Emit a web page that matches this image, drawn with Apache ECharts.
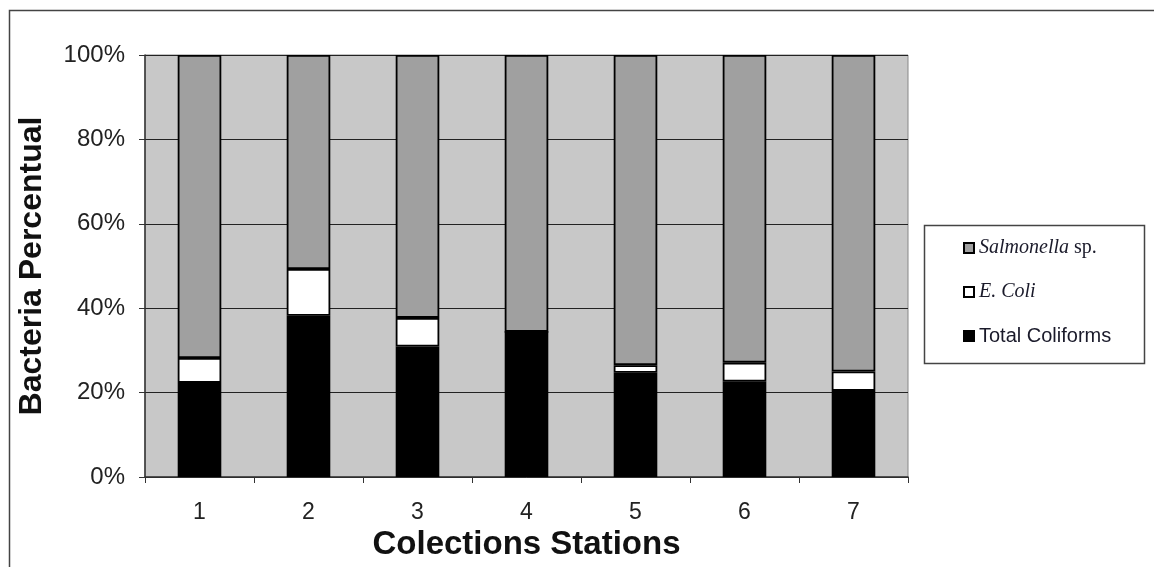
<!DOCTYPE html>
<html><head><meta charset="utf-8">
<script src="https://cdn.jsdelivr.net/npm/echarts@6/dist/echarts.min.js"></script>
<style>html,body{margin:0;padding:0;background:#fff}#c{width:1154px;height:567px}</style>
</head><body><div id="c"></div>
<script>
const categories = ['1','2','3','4','5','6','7'];
const totalColiforms = [22.3, 38.2, 30.9, 34.4, 24.7, 22.6, 20.4];
const eColi = [5.9, 11.1, 6.8, 0, 1.8, 4.5, 4.6];
const salmonella = [71.8, 50.7, 62.3, 65.6, 73.5, 72.9, 75.0];
const seriesNames = ['Total Coliforms', 'E. Coli', 'Salmonella sp.'];
const yTicks = [0, 20, 40, 60, 80, 100];

const chart = echarts.init(document.getElementById('c'), null, {renderer:'canvas'});
const barStyle = (color) => ({color: color, borderColor: '#000', borderWidth: 1.8});
chart.setOption({
  animation: false,
  backgroundColor: '#fff',
  graphic: [
    {type:'rect', shape:{x:9.5, y:10.5, width:1160, height:600}, style:{fill:null, stroke:'#444', lineWidth:1.5}, z:-10},
    {type:'rect', shape:{x:924.5, y:225.5, width:220, height:138}, style:{fill:'#fff', stroke:'#444', lineWidth:1.5}, z:0}
  ],
  grid: {left:145, right:246, top:55, bottom:90, show:true, backgroundColor:'#c8c8c8', borderColor:'#888', borderWidth:1},
  legend: {
    data: [seriesNames[2], seriesNames[1], seriesNames[0]],
    orient: 'vertical', left: 958, top: 233, itemGap: 24,
    itemWidth: 10, itemHeight: 10, icon: 'rect', z: 5,
    formatter: function(name){
      if (name === 'Salmonella sp.') return '{it|Salmonella}{n| sp.}';
      if (name === 'E. Coli') return '{it|E. Coli}';
      return '{a|Total Coliforms}';
    },
    textStyle: {
      rich: {
        it: {fontFamily:'Liberation Serif', fontStyle:'italic', fontSize:20, color:'#1a1a2a'},
        n: {fontFamily:'Liberation Serif', fontSize:20, color:'#1a1a2a'},
        a: {fontFamily:'Liberation Sans', fontSize:20, color:'#1a1a2a'}
      }
    }
  },
  xAxis: {
    type:'category', data: categories,
    name: 'Colections Stations', nameLocation:'middle', nameGap: 51,
    nameTextStyle: {fontFamily:'Liberation Sans', fontWeight:'bold', fontSize:33, color:'#111'},
    axisLine: {lineStyle:{color:'#333', width:1.5}},
    axisTick: {show:true, length:6, lineStyle:{color:'#333'}},
    axisLabel: {fontFamily:'Liberation Sans', fontSize:23, color:'#222', margin:24}
  },
  yAxis: {
    type:'value', min:0, max:100, interval:20,
    name: 'Bacteria Percentual', nameLocation:'middle', nameGap: 97,
    nameTextStyle: {fontFamily:'Liberation Sans', fontWeight:'bold', fontSize:32, color:'#111'},
    axisLine: {show:true, lineStyle:{color:'#333', width:1.5}},
    axisTick: {show:true, length:6, lineStyle:{color:'#333'}},
    axisLabel: {fontFamily:'Liberation Sans', fontSize:24, color:'#222', margin:20,
      formatter: v => yTicks.includes(v) ? v + '%' : ''},
    splitLine: {show:true, lineStyle:{color:'#222', width:1}}
  },
  series: [
    {name: seriesNames[0], type:'bar', stack:'s', data: totalColiforms, barWidth:'40%', itemStyle: barStyle('#000')},
    {name: seriesNames[1], type:'bar', stack:'s', data: eColi, itemStyle: barStyle('#fff')},
    {name: seriesNames[2], type:'bar', stack:'s', data: salmonella, itemStyle: barStyle('#a0a0a0')}
  ]
});
</script></body></html>
